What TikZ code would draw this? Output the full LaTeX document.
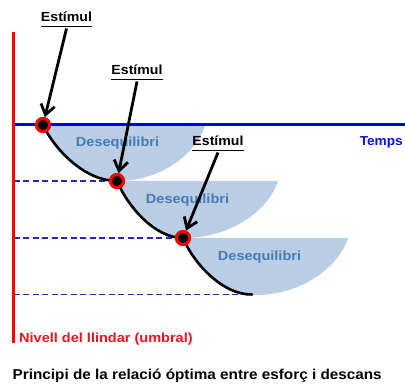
\documentclass[tikz,border=0pt]{standalone}
\usepackage{fontspec}
\setmainfont{Liberation Sans}
\usepackage{graphicx}
\usetikzlibrary{arrows.meta}
\definecolor{shade}{RGB}{185,205,229}
\definecolor{deseq}{RGB}{72,122,182}
\definecolor{tblue}{RGB}{10,10,235}
\definecolor{lblue}{RGB}{0,0,250}
\definecolor{dblue}{RGB}{40,40,175}
\definecolor{tred}{RGB}{235,20,30}
\newcommand{\hsc}[2]{\scalebox{#1}[1]{#2}}
\begin{document}
\begin{tikzpicture}[x=1pt,y=-1pt,
  region/.style={fill=shade,draw=none},
  guide/.style={dblue,line width=1.8pt,dash pattern=on 6pt off 3.5pt},
  curve/.style={black,line width=2.6pt,line cap=round},
  stim/.style={black,line width=2.8pt,-{Straight Barb[length=10pt,width=14pt]}},
  ptmark/.style={circle,fill=black,draw=red,line width=3pt,minimum size=13pt,inner sep=0pt},
  stimlab/.style={inner sep=0pt,anchor=base,font=\fontsize{13.2}{15}\selectfont\bfseries},
  uline/.style={black,line width=1.5pt},
  deslab/.style={inner sep=0pt,anchor=base,text=deseq,font=\fontsize{13.2}{15}\selectfont\bfseries},
]
\useasboundingbox[fill=white] (0,0) rectangle (405,385);

% shaded regions
\fill[region] (43,125) -- (205,125) .. controls (198,150) and (165,181) .. (117,181)
  .. controls (85,181) and (55,150) .. (43,125) -- cycle;
\fill[region] (117,181) -- (278,181) .. controls (270,207) and (235,238) .. (183,238)
  .. controls (155,238) and (128,207) .. (117,181) -- cycle;
\fill[region] (183,238) -- (348,238) .. controls (340,264) and (305,296) .. (252,295)
  .. controls (223,295) and (194,264) .. (183,238) -- cycle;

% points
\node[ptmark] (p1) at (43,125) {};
\node[ptmark] (p2) at (117,181) {};
\node[ptmark] (p3) at (183,238) {};
\coordinate (top) at (13.5,32);
\coordinate (bot) at (13.5,343.5);
\coordinate (g1) at (13.5,181);
\coordinate (g2) at (13.5,238);
\coordinate (g3) at (13.5,294.5);
\coordinate (g3e) at (252,294.5);
\coordinate (t0) at (13.5,125);
\coordinate (t1) at (405,125);

% guides and axes
\draw[guide] (g1) -- (p2.center);
\draw[guide] (g2) -- (p3.center);
\draw[guide] (g3) -- (g3e);
\draw[lblue,line width=3pt] (t0) -- (t1);
\draw[red,line width=3pt] (top) -- (bot);

% curves
\draw[curve] (p1.center) .. controls (55,150) and (85,181) .. (p2.center);
\draw[curve] (p2.center) .. controls (128,207) and (155,238) .. (p3.center);
\draw[curve] (p3.center) .. controls (194,264) and (223,295) .. (g3e);

% Desequilibri labels
\node[deslab] (d1) at (117.5,146.5) {\hsc{1.10}{Desequilibri}};
\node[deslab] (d2) at (187.5,203.8) {\hsc{1.10}{Desequilibri}};
\node[deslab] (d3) at (259.5,260.8) {\hsc{1.10}{Desequilibri}};

% stimulus labels
\node[stimlab] (e1) at (66.5,21.5) {\hsc{1.07}{Estímul}};
\node[stimlab] (e2) at (137,74.5) {\hsc{1.07}{Estímul}};
\node[stimlab] (e3) at (218,145.5) {\hsc{1.07}{Estímul}};
\foreach \e in {e1,e2,e3}{
  \draw[uline] ([yshift=-5pt]\e.base west) -- ([yshift=-5pt]\e.base east);
}
\draw[stim] ([yshift=-7pt]e1.base) -- (p1);
\draw[stim] ([yshift=-7pt]e2.base) -- (p2);
\draw[stim] ([yshift=-7pt]e3.base) -- (p3);
% redraw points on top
\node[ptmark] at (p1) {};
\node[ptmark] at (p2) {};
\node[ptmark] at (p3) {};

% texts
\node[inner sep=0pt,anchor=base,text=tblue,font=\fontsize{13}{15}\selectfont\bfseries] (temps) at (381.3,146) {\hsc{1.05}{Temps}};
\node[inner sep=0pt,anchor=base west,text=tred,font=\fontsize{13.2}{15}\selectfont\bfseries] (niv) at (19,342) {\hsc{1.10}{Nivell del llindar (umbral)}};
\node[inner sep=0pt,anchor=base west,font=\fontsize{14.3}{16}\selectfont\bfseries] (cap) at (12.5,380) {\hsc{1.07}{Principi de la relació óptima entre esforç i descans}};
\end{tikzpicture}
\end{document}
